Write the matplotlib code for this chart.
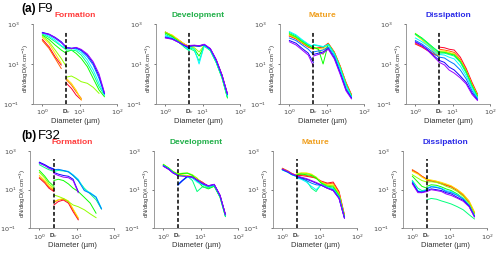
"""Droplet size distributions (F9 / F32) at four cloud stages."""

import matplotlib
matplotlib.use("Agg")
import matplotlib.pyplot as plt
import numpy as np

nan = np.nan
plt.rcParams["font.family"] = ["Liberation Sans", "DejaVu Sans"]

# diameter bins (um): left instrument up to Dc, right instrument from Dc
D_LEFT_A = [1.0, 1.5, 2.2, 3.2, 4.4]
D_RIGHT_A = [4.4, 6, 8, 11, 16, 23, 33, 46]
D_LEFT_B = [1.0, 1.4, 1.8, 2.45]
D_RIGHT_B = [2.45, 3.2, 4.4, 6, 8, 11, 16, 23, 33, 46]
DC_A = 4.4
DC_B = 2.45

STAGES = ["Formation", "Development", "Mature", "Dissipation"]
STAGE_COLORS = ["#ff3b3b", "#22b04a", "#f0a020", "#2a2ae8"]
ROW_LABELS = [("(a)", "F9"), ("(b)", "F32")]

# dN/dlogD (#/cm3), one row per time step (red -> purple)
F9_FORMATION_L = [
    [171, 74, 23, 8.9, nan], [147, 61, 19, 6.0, nan], [215, 108, 34, 10.8, nan],
    [251, 131, 50, 19, 7.4], [282, 171, 89, 50, 34], [316, 215, 131, 79, 50],
    [340, 251, 158, 83, 61], [370, 293, 192, 116, 68], [382, 316, 215, 131, 68],
    [355, 304, 207, 121, 66],
]
F9_FORMATION_R = [
    [1.08, 0.6, 0.28, 0.16, nan, nan, nan, nan], [1.6, 0.89, 0.41, 0.19, nan, nan, nan, nan],
    [1.9, 1.08, 0.5, 0.16, nan, nan, nan, nan], [2.2, 2.5, 1.9, 1.3, 1.08, 0.68, 0.34, nan],
    [40, 50, 34, 19, 7.4, 1.9, 0.5, 0.23], [50, 50, 46, 28, 10.8, 3.2, 0.74, 0.28],
    [61, 61, 54, 37, 16, 5.0, 1.08, 0.28], [68, 61, 61, 46, 23, 8.9, 1.9, 0.32],
    [66, 61, 66, 50, 28, 11, 2.5, 0.34], [66, 59, 68, 54, 32, 13, 3.2, 0.37],
]
F9_DEVELOPMENT_L = [
    [380, 250, 160, 100, 75], [400, 270, 165, 100, 72], [360, 290, 170, 100, 70],
    [400, 260, 150, 90, 65], [350, 240, 140, 85, 55], [300, 210, 130, 70, 45],
    [260, 200, 130, 80, 50], [230, 190, 130, 85, 60], [210, 180, 125, 85, 65],
    [200, 175, 125, 90, 70],
]
F9_DEVELOPMENT_R = [
    [80, 85, 80, 90, 55, 16, 2.8, 0.3], [78, 82, 78, 88, 54, 15, 2.6, 0.28],
    [75, 80, 75, 85, 52, 14, 2.4, 0.25], [70, 65, 40, 85, 50, 13, 2.2, 0.22],
    [65, 55, 25, 82, 48, 12, 2.0, 0.2], [60, 45, 14, 80, 47, 12, 2.0, 0.22],
    [70, 55, 10, 85, 50, 13, 2.3, 0.25], [75, 80, 75, 90, 55, 15, 2.5, 0.3],
    [80, 85, 80, 95, 58, 16, 2.7, 0.32], [85, 88, 82, 98, 60, 17, 2.8, 0.33],
]
F9_MATURE_L = [
    [250, 180, 110, 70, 55], [260, 190, 115, 75, 55], [280, 200, 120, 80, 60],
    [300, 210, 125, 80, 60], [330, 230, 135, 85, 62], [380, 260, 150, 95, 70],
    [420, 290, 165, 100, 75], [200, 150, 90, 55, 30], [150, 110, 60, 35, 12],
    [130, 90, 50, 28, 8],
]
F9_MATURE_R = [
    [60, 65, 70, 110, 40, 8, 1.2, 0.3], [60, 62, 65, 105, 38, 7.5, 1.1, 0.28],
    [65, 60, 55, 100, 36, 7, 1.0, 0.26], [65, 55, 30, 100, 35, 7, 1.0, 0.25],
    [70, 55, 10, 98, 34, 6.5, 0.9, 0.25], [90, 80, 70, 95, 33, 6, 0.9, 0.24],
    [95, 85, 75, 92, 32, 6, 0.85, 0.23], [40, 45, 50, 70, 25, 4, 0.6, 0.2],
    [30, 35, 40, 60, 20, 3.5, 0.5, 0.2], [25, 30, 35, 55, 18, 3, 0.45, 0.18],
]
F9_DISSIPATION_L = [
    [100, 70, 45, 30, 25], [110, 75, 48, 30, 25], [300, 160, 80, 40, 25],
    [340, 190, 95, 50, 30], [320, 200, 110, 60, 35], [300, 190, 105, 60, 40],
    [200, 130, 80, 45, 28], [150, 100, 60, 35, 20], [130, 85, 50, 25, 15],
    [120, 80, 45, 22, 12],
]
F9_DISSIPATION_R = [
    [70, 65, 55, 50, 22, 6, 1.2, 0.32], [55, 50, 45, 38, 17, 5, 1.0, 0.3],
    [45, 45, 38, 32, 15, 4.5, 0.9, 0.28], [40, 40, 35, 30, 14, 4.2, 0.85, 0.26],
    [40, 38, 32, 28, 13, 4, 0.8, 0.25], [35, 35, 30, 25, 12, 3.5, 0.75, 0.22],
    [30, 28, 22, 18, 8, 2.5, 0.6, 0.2], [22, 20, 14, 10, 5, 1.8, 0.45, 0.18],
    [15, 12, 7, 5, 2.5, 1.2, 0.35, 0.16], [12, 9, 5, 3.5, 2.0, 1.0, 0.3, 0.15],
]
F32_FORMATION_L = [
    [40, 22, 12, 8], [45, 25, 14, 9], [55, 30, 16, 10], [80, 40, 20, 12],
    [100, 50, 26, 15], [200, 140, 110, 90], [250, 180, 140, 110],
    [260, 190, 145, 115], [270, 200, 150, 120], [240, 180, 130, 100],
]
F32_FORMATION_R = [
    [1.6, 2.4, 2.9, 2.0, 0.72, 0.27, nan, nan, nan, nan],
    [2.2, 2.9, 3.2, 2.4, 0.9, 0.3, nan, nan, nan, nan],
    [2.4, 3.0, 3.5, 2.6, 1.0, 0.35, nan, nan, nan, nan],
    [5.3, 4.5, 3.5, 2.4, 1.6, 1.3, 0.9, 0.55, 0.35, nan],
    [30, 35, 30, 20, 12, 8, 4, 2.0, 0.6, nan],
    [90, 100, 95, 85, 55, 30, 12, 6, 3, 1.0],
    [100, 110, 100, 90, 60, 35, 10, 7, 4.3, 1.1],
    [110, 115, 100, 85, 55, 30, 9, 6.5, 4, 1.0],
    [80, 65, 55, 50, 35, 8, nan, nan, nan, nan],
    [70, 55, 45, 42, 30, 7, nan, nan, nan, nan],
]
F32_DEVELOPMENT_L = [
    [180, 120, 80, 60], [190, 125, 85, 62], [200, 130, 88, 65], [210, 135, 90, 67],
    [200, 130, 85, 60], [190, 125, 80, 55], [180, 120, 80, 55], [175, 118, 78, 55],
    [170, 115, 75, 55], [165, 112, 75, 55],
]
F32_DEVELOPMENT_R = [
    [60, 55, 50, 45, 35, 25, 15, 18, 5, 0.5],
    [62, 57, 52, 46, 36, 24, 14, 17, 4.8, 0.5],
    [65, 60, 55, 50, 38, 22, 13, 16, 4.5, 0.45],
    [68, 72, 75, 60, 40, 20, 12, 16, 4.3, 0.45],
    [60, 70, 72, 55, 30, 15, 11, 15, 4, 0.4],
    [50, 55, 50, 30, 8, 14, 12, 16, 4.2, 0.4],
    [20, 30, 45, 40, 25, 18, 14, 17, 4.5, 0.45],
    [17, 28, 48, 45, 30, 20, 15, 18, 4.8, 0.5],
    [18, 30, 50, 45, 32, 22, 16, 19, 5, 0.5],
    [55, 50, 48, 44, 33, 22, 16, 19, 5.2, 0.5],
]
F32_MATURE_L = [
    [130, 95, 70, 55], [125, 92, 68, 54], [120, 90, 66, 52], [115, 88, 65, 52],
    [112, 85, 62, 50], [110, 82, 60, 48], [105, 80, 60, 48], [110, 82, 62, 50],
    [115, 85, 64, 52], [118, 88, 66, 53],
]
F32_MATURE_R = [
    [55, 55, 50, 45, 40, 28, 22, 25, 8, 0.5],
    [60, 60, 55, 48, 40, 26, 20, 22, 7, 0.45],
    [70, 75, 75, 65, 45, 25, 18, 18, 6, 0.42],
    [65, 72, 70, 60, 45, 23, 17, 16, 5.5, 0.4],
    [60, 65, 60, 55, 40, 22, 15, 14, 5, 0.4],
    [45, 40, 30, 12, 8, 20, 14, 12, 4.5, 0.38],
    [40, 35, 25, 15, 10, 18, 13, 11, 4, 0.35],
    [45, 38, 30, 22, 18, 17, 12, 10, 3.8, 0.35],
    [50, 42, 35, 28, 22, 17, 12, 9, 3.5, 0.33],
    [52, 45, 38, 30, 24, 18, 12, 9, 3.5, 0.33],
]
F32_DISSIPATION_L = [
    [100, 70, 50, 35], [110, 75, 50, 35], [90, 65, 45, 32], [60, 40, 30, 25],
    [50, 25, 15, 12], [30, 12, 9, 10], [28, 9, 8, 10], [25, 8, 8, 9],
    [22, 8, 7, 9], [20, 7, 7, 8],
]
F32_DISSIPATION_R = [
    [30, 28, 25, 20, 17, 14, 9, 5, 2.2, 0.6],
    [32, 30, 27, 22, 18, 15, 10, 5.5, 2.5, 0.65],
    [35, 32, 28, 24, 20, 16, 10, 6, 2.6, 0.7],
    [25, 26, 24, 20, 15, 12, 8, 4.5, 2.0, 0.55],
    [15, 18, 17, 14, 11, 9, 6, 3.5, 1.6, 0.45],
    [3.0, 3.5, 3.2, 2.6, 2.2, 1.8, 1.3, 0.9, 0.5, 0.3],
    [12, 15, 14, 12, 9, 8, 5.5, 3.5, 1.6, 0.45],
    [11, 14, 13, 11, 8, 7, 5, 3.2, 1.5, 0.42],
    [9, 11, 10, 9, 7, 6, 4, 2.8, 1.4, 0.4],
    [8, 10, 9, 8, 6, 5, 3.6, 2.5, 1.3, 0.38],
]

ROWS = [
    (D_LEFT_A, D_RIGHT_A, DC_A, [
        (F9_FORMATION_L, F9_FORMATION_R), (F9_DEVELOPMENT_L, F9_DEVELOPMENT_R),
        (F9_MATURE_L, F9_MATURE_R), (F9_DISSIPATION_L, F9_DISSIPATION_R)]),
    (D_LEFT_B, D_RIGHT_B, DC_B, [
        (F32_FORMATION_L, F32_FORMATION_R), (F32_DEVELOPMENT_L, F32_DEVELOPMENT_R),
        (F32_MATURE_L, F32_MATURE_R), (F32_DISSIPATION_L, F32_DISSIPATION_R)]),
]

# axes boxes in figure fractions
ROW_BOTTOM = [0.594, 0.109]
ROW_HEIGHT = [0.312, 0.30]
COL_LEFT = [[0.066, 0.312, 0.560, 0.812], [0.060, 0.308, 0.546, 0.806]]
COL_WIDTH = 0.168
AXIS_GRAY = "#8a8a8a"


def style_axes(ax):
    ax.set_xscale("log")
    ax.set_yscale("log")
    ax.set_xlim(0.56, 100)
    ax.set_ylim(0.1, 1000)
    ax.set_xticks([1, 10, 100])
    ax.set_xticklabels([r"$10^0$", r"$10^1$", r"$10^2$"])
    ax.set_yticks([0.1, 10, 1000])
    ax.set_yticklabels([r"$10^{-1}$", r"$10^1$", r"$10^3$"])
    ax.minorticks_off()
    ax.tick_params(labelsize=4.6, length=1.5, width=0.5, colors="#444444")
    ax.tick_params(axis="x", pad=1.5)
    ax.tick_params(axis="y", pad=8)
    for side in ("top", "right"):
        ax.spines[side].set_visible(False)
    for side in ("left", "bottom"):
        ax.spines[side].set_color(AXIS_GRAY)
        ax.spines[side].set_linewidth(0.6)
    ax.set_xlabel("Diameter (µm)", fontsize=5.5, labelpad=0.5, color="#333333")
    ax.set_ylabel("dN/dlogD(#.cm$^{-3}$)", fontsize=4.2, color="#333333")
    ax.yaxis.set_label_coords(-0.028, 0.45)


def main():
    fig = plt.figure(figsize=(5.0, 2.56), dpi=100)
    colors = plt.cm.gist_rainbow(np.linspace(0, 0.88, 10))

    for r, (d_left, d_right, dc, panels) in enumerate(ROWS):
        for c, (left, right) in enumerate(panels):
            ax = fig.add_axes([COL_LEFT[r][c], ROW_BOTTOM[r], COL_WIDTH, ROW_HEIGHT[r]])
            style_axes(ax)
            for i in range(len(left)):
                ax.plot(d_left, left[i], color=colors[i], linewidth=0.7)
                ax.plot(d_right, right[i], color=colors[i], linewidth=0.7)
            ax.axvline(dc, ymax=0.9, color="black", linestyle=(0, (2.5, 1.5)),
                       linewidth=1.1, zorder=5)
            ax.text(dc, -0.035, r"D$_c$", transform=ax.get_xaxis_transform(),
                    ha="center", va="top", fontsize=4.5, fontweight="bold",
                    color="#333333")
            ax.set_title(STAGES[c], fontsize=6, fontweight="bold",
                         color=STAGE_COLORS[c], pad=5)

        tag, flight = ROW_LABELS[r]
        y = 0.965 if r == 0 else 0.47
        fig.text(0.042, y, tag, fontsize=8.5, fontweight="bold", va="center")
        fig.text(0.076, y, flight, fontsize=9.5, va="center")

    fig.savefig("out.png", dpi=100)


if __name__ == "__main__":
    main()
